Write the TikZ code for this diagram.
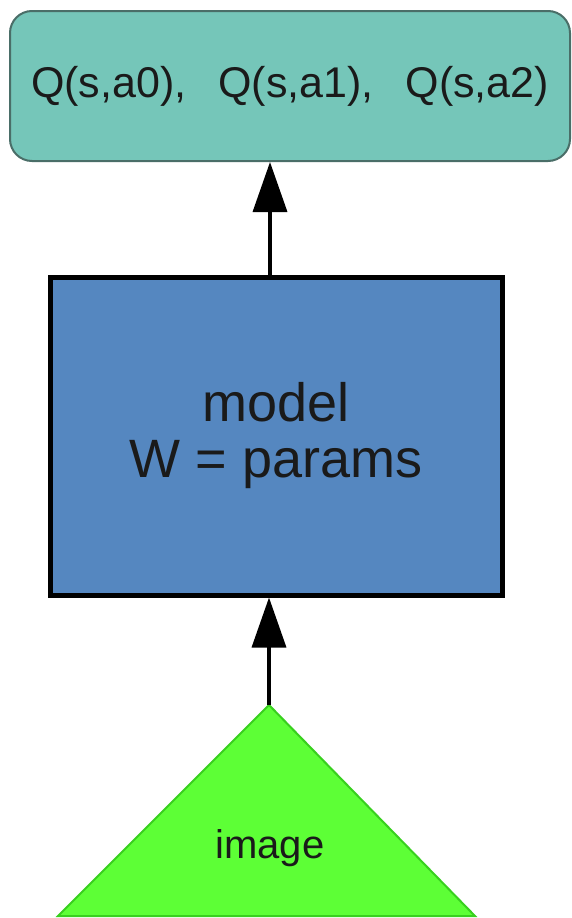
\documentclass[tikz,border=0pt]{standalone}
\usepackage{fontspec}
\setmainfont{Liberation Sans}
\usetikzlibrary{arrows.meta}
\definecolor{tealfill}{HTML}{75C6B9}
\definecolor{tealdraw}{HTML}{4A6E68}
\definecolor{bluefill}{HTML}{5587C0}
\definecolor{greenfill}{HTML}{5DFF36}
\definecolor{greendraw}{HTML}{38D01E}
\definecolor{txt}{HTML}{1A1A1A}
\tikzset{
  qbox/.style={draw=tealdraw, line width=2pt, fill=tealfill, rounded corners=22pt,
    minimum width=560pt, minimum height=150pt, inner sep=0pt,
    font=\fontsize{43}{50}\selectfont, text=txt},
  modelbox/.style={draw=black, line width=5pt, fill=bluefill,
    minimum width=452pt, minimum height=318pt, inner sep=0pt,
    font=\fontsize{54}{62}\selectfont, align=center, text=txt},
  imgtri/.style={draw=greendraw, line width=2pt, fill=greenfill},
  conn/.style={line width=3.5pt, draw=black, -{Triangle[length=50pt,width=34pt]}}
}
\begin{document}
\begin{tikzpicture}[x=1pt,y=-1pt]
\useasboundingbox[fill=white] (0,0) rectangle (572,918);
\node[qbox] (q) at (290,86) {Q(s,a0),\hspace{32pt}Q(s,a1),\hspace{32pt}Q(s,a2)};
\node[modelbox] (m) at (276,436) {model\\[-6pt]W = params};
\coordinate (apex) at (269,705);
\draw[imgtri] (apex) -- (475,916) -- (58,916) -- cycle;
\node[font=\fontsize{40}{48}\selectfont, text=txt] (img) at (270,848) {image};
\draw[conn] (m.north -| 270,0) -- (q.south -| 270,0);
\draw[conn] (apex) -- (m.south -| apex);
\end{tikzpicture}
\end{document}
